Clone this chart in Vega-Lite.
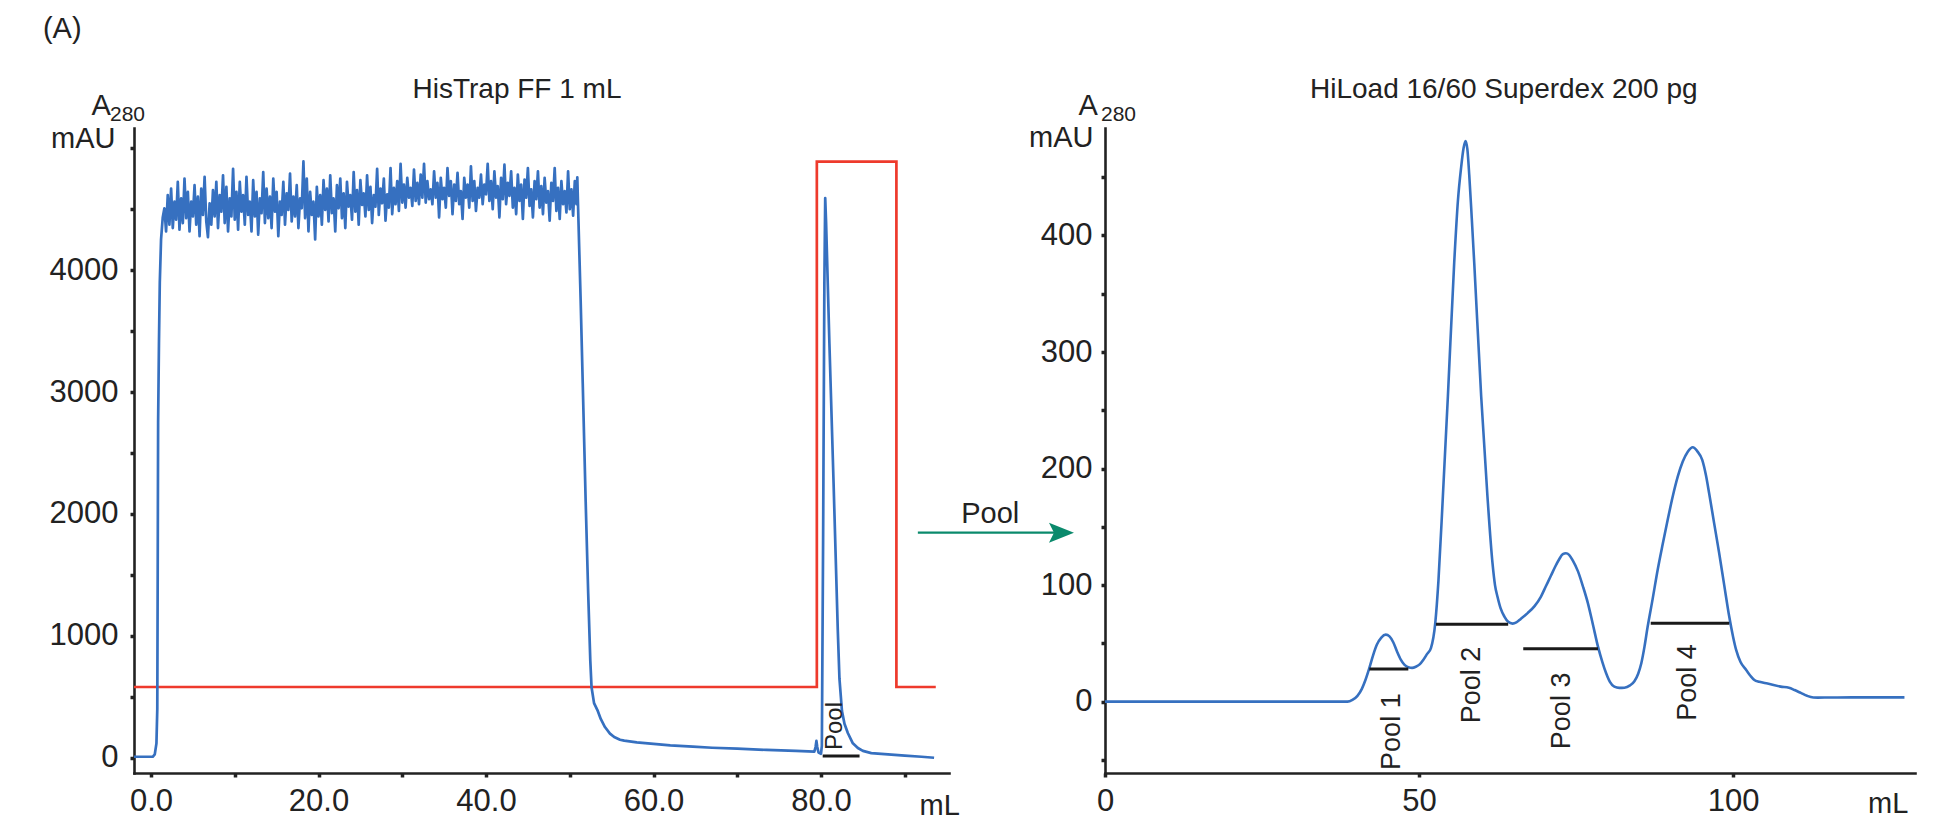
{
"$schema": "https://vega.github.io/schema/vega-lite/v6.json",
"padding": {"left": 42, "top": 15, "right": 10, "bottom": 5},
"config": {
  "view": {"stroke": null},
  "font": "Liberation Sans",
  "axis": {"grid": false, "domainColor": "#222222", "domainWidth": 2.6, "domainCap": "square", "tickColor": "#222222", "tickSize": 4, "tickWidth": 3.5, "labelFontSize": 31, "labelColor": "#222222", "labelFont": "Liberation Sans", "labelFlush": false, "labelOverlap": false, "labelBound": false}
},
"datasets": {
  "histrap_cond": [
    {"i": 0, "ml": -2.03, "mau": 582}, {"i": 1, "ml": 79.5, "mau": 582}, {"i": 2, "ml": 79.5, "mau": 4888},
    {"i": 3, "ml": 89.0, "mau": 4888}, {"i": 4, "ml": 89.0, "mau": 582}, {"i": 5, "ml": 93.7, "mau": 582}
  ],
  "histrap_uv": [
    {"ml": -2.03, "mau": 10}, {"ml": 0.2, "mau": 10}, {"ml": 0.45, "mau": 30}, {"ml": 0.65, "mau": 120}, {"ml": 0.75, "mau": 400},
    {"ml": 0.8, "mau": 1500}, {"ml": 0.85, "mau": 2750}, {"ml": 0.95, "mau": 3400}, {"ml": 1.05, "mau": 3900}, {"ml": 1.2, "mau": 4250}, {"ml": 1.4, "mau": 4430},
    {"ml": 1.6, "mau": 4506}, {"ml": 1.8, "mau": 4317}, {"ml": 2.0, "mau": 4614}, {"ml": 2.2, "mau": 4371}, {"ml": 2.4, "mau": 4668},
    {"ml": 2.6, "mau": 4344}, {"ml": 2.8, "mau": 4560}, {"ml": 3.0, "mau": 4412}, {"ml": 3.2, "mau": 4722}, {"ml": 3.4, "mau": 4331},
    {"ml": 3.6, "mau": 4587}, {"ml": 3.8, "mau": 4385}, {"ml": 4.0, "mau": 4749}, {"ml": 4.2, "mau": 4425}, {"ml": 4.4, "mau": 4641},
    {"ml": 4.6, "mau": 4317}, {"ml": 4.8, "mau": 4560}, {"ml": 5.0, "mau": 4439}, {"ml": 5.2, "mau": 4695}, {"ml": 5.4, "mau": 4371},
    {"ml": 5.6, "mau": 4601}, {"ml": 5.8, "mau": 4277}, {"ml": 6.0, "mau": 4668}, {"ml": 6.2, "mau": 4452}, {"ml": 6.4, "mau": 4763},
    {"ml": 6.6, "mau": 4398}, {"ml": 6.8, "mau": 4270}, {"ml": 7.0, "mau": 4547}, {"ml": 7.2, "mau": 4371}, {"ml": 7.4, "mau": 4655},
    {"ml": 7.6, "mau": 4439}, {"ml": 7.8, "mau": 4722}, {"ml": 8.0, "mau": 4344}, {"ml": 8.2, "mau": 4614}, {"ml": 8.4, "mau": 4479},
    {"ml": 8.6, "mau": 4776}, {"ml": 8.8, "mau": 4385}, {"ml": 9.0, "mau": 4682}, {"ml": 9.2, "mau": 4317}, {"ml": 9.4, "mau": 4587},
    {"ml": 9.6, "mau": 4439}, {"ml": 9.8, "mau": 4830}, {"ml": 10.0, "mau": 4412}, {"ml": 10.2, "mau": 4641}, {"ml": 10.4, "mau": 4331},
    {"ml": 10.6, "mau": 4722}, {"ml": 10.8, "mau": 4479}, {"ml": 11.0, "mau": 4614}, {"ml": 11.2, "mau": 4371}, {"ml": 11.4, "mau": 4763},
    {"ml": 11.6, "mau": 4452}, {"ml": 11.8, "mau": 4560}, {"ml": 12.0, "mau": 4317}, {"ml": 12.2, "mau": 4736}, {"ml": 12.4, "mau": 4439},
    {"ml": 12.6, "mau": 4641}, {"ml": 12.8, "mau": 4290}, {"ml": 13.0, "mau": 4587}, {"ml": 13.2, "mau": 4466}, {"ml": 13.4, "mau": 4803},
    {"ml": 13.6, "mau": 4385}, {"ml": 13.8, "mau": 4668}, {"ml": 14.0, "mau": 4425}, {"ml": 14.2, "mau": 4601}, {"ml": 14.4, "mau": 4344},
    {"ml": 14.6, "mau": 4749}, {"ml": 14.8, "mau": 4479}, {"ml": 15.0, "mau": 4641}, {"ml": 15.2, "mau": 4277}, {"ml": 15.4, "mau": 4560},
    {"ml": 15.6, "mau": 4452}, {"ml": 15.8, "mau": 4722}, {"ml": 16.0, "mau": 4371}, {"ml": 16.2, "mau": 4628}, {"ml": 16.4, "mau": 4493},
    {"ml": 16.6, "mau": 4790}, {"ml": 16.8, "mau": 4398}, {"ml": 17.0, "mau": 4601}, {"ml": 17.2, "mau": 4439}, {"ml": 17.4, "mau": 4695},
    {"ml": 17.6, "mau": 4344}, {"ml": 17.8, "mau": 4587}, {"ml": 18.0, "mau": 4506}, {"ml": 18.2, "mau": 4890}, {"ml": 18.4, "mau": 4425},
    {"ml": 18.6, "mau": 4749}, {"ml": 18.8, "mau": 4317}, {"ml": 19.0, "mau": 4641}, {"ml": 19.2, "mau": 4452}, {"ml": 19.4, "mau": 4560},
    {"ml": 19.6, "mau": 4250}, {"ml": 19.8, "mau": 4682}, {"ml": 20.0, "mau": 4439}, {"ml": 20.2, "mau": 4614}, {"ml": 20.4, "mau": 4371},
    {"ml": 20.6, "mau": 4736}, {"ml": 20.8, "mau": 4493}, {"ml": 21.0, "mau": 4668}, {"ml": 21.2, "mau": 4398}, {"ml": 21.4, "mau": 4776},
    {"ml": 21.6, "mau": 4466}, {"ml": 21.8, "mau": 4587}, {"ml": 22.0, "mau": 4317}, {"ml": 22.2, "mau": 4695}, {"ml": 22.4, "mau": 4506},
    {"ml": 22.6, "mau": 4749}, {"ml": 22.8, "mau": 4425}, {"ml": 23.0, "mau": 4628}, {"ml": 23.2, "mau": 4344}, {"ml": 23.4, "mau": 4722},
    {"ml": 23.6, "mau": 4520}, {"ml": 23.8, "mau": 4614}, {"ml": 24.0, "mau": 4412}, {"ml": 24.2, "mau": 4803}, {"ml": 24.4, "mau": 4479},
    {"ml": 24.6, "mau": 4655}, {"ml": 24.8, "mau": 4371}, {"ml": 25.0, "mau": 4736}, {"ml": 25.2, "mau": 4533}, {"ml": 25.4, "mau": 4628},
    {"ml": 25.6, "mau": 4439}, {"ml": 25.8, "mau": 4776}, {"ml": 26.0, "mau": 4493}, {"ml": 26.2, "mau": 4682}, {"ml": 26.4, "mau": 4385},
    {"ml": 26.6, "mau": 4614}, {"ml": 26.8, "mau": 4520}, {"ml": 27.0, "mau": 4830}, {"ml": 27.2, "mau": 4452}, {"ml": 27.4, "mau": 4668},
    {"ml": 27.6, "mau": 4547}, {"ml": 27.8, "mau": 4749}, {"ml": 28.0, "mau": 4404}, {"ml": 28.2, "mau": 4620}, {"ml": 28.4, "mau": 4512},
    {"ml": 28.6, "mau": 4836}, {"ml": 28.8, "mau": 4458}, {"ml": 29.0, "mau": 4674}, {"ml": 29.2, "mau": 4539}, {"ml": 29.4, "mau": 4728},
    {"ml": 29.6, "mau": 4485}, {"ml": 29.8, "mau": 4870}, {"ml": 30.0, "mau": 4553}, {"ml": 30.2, "mau": 4701}, {"ml": 30.4, "mau": 4512},
    {"ml": 30.6, "mau": 4755}, {"ml": 30.8, "mau": 4593}, {"ml": 31.0, "mau": 4674}, {"ml": 31.2, "mau": 4526}, {"ml": 31.4, "mau": 4823},
    {"ml": 31.6, "mau": 4566}, {"ml": 31.8, "mau": 4715}, {"ml": 32.0, "mau": 4539}, {"ml": 32.2, "mau": 4782}, {"ml": 32.4, "mau": 4593},
    {"ml": 32.6, "mau": 4870}, {"ml": 32.8, "mau": 4553}, {"ml": 33.0, "mau": 4728}, {"ml": 33.2, "mau": 4580}, {"ml": 33.4, "mau": 4661},
    {"ml": 33.6, "mau": 4539}, {"ml": 33.8, "mau": 4809}, {"ml": 34.0, "mau": 4593}, {"ml": 34.2, "mau": 4715}, {"ml": 34.4, "mau": 4431},
    {"ml": 34.6, "mau": 4755}, {"ml": 34.8, "mau": 4580}, {"ml": 35.0, "mau": 4674}, {"ml": 35.2, "mau": 4512}, {"ml": 35.4, "mau": 4836},
    {"ml": 35.6, "mau": 4607}, {"ml": 35.8, "mau": 4728}, {"ml": 36.0, "mau": 4458}, {"ml": 36.2, "mau": 4701}, {"ml": 36.4, "mau": 4566},
    {"ml": 36.6, "mau": 4796}, {"ml": 36.8, "mau": 4539}, {"ml": 37.0, "mau": 4647}, {"ml": 37.2, "mau": 4418}, {"ml": 37.4, "mau": 4755},
    {"ml": 37.6, "mau": 4593}, {"ml": 37.8, "mau": 4701}, {"ml": 38.0, "mau": 4512}, {"ml": 38.2, "mau": 4850}, {"ml": 38.4, "mau": 4566},
    {"ml": 38.6, "mau": 4728}, {"ml": 38.8, "mau": 4485}, {"ml": 39.0, "mau": 4674}, {"ml": 39.2, "mau": 4593}, {"ml": 39.4, "mau": 4782},
    {"ml": 39.6, "mau": 4539}, {"ml": 39.8, "mau": 4701}, {"ml": 40.0, "mau": 4620}, {"ml": 40.2, "mau": 4870}, {"ml": 40.4, "mau": 4566},
    {"ml": 40.6, "mau": 4728}, {"ml": 40.8, "mau": 4499}, {"ml": 41.0, "mau": 4809}, {"ml": 41.2, "mau": 4593}, {"ml": 41.4, "mau": 4688},
    {"ml": 41.6, "mau": 4431}, {"ml": 41.8, "mau": 4755}, {"ml": 42.0, "mau": 4580}, {"ml": 42.2, "mau": 4863}, {"ml": 42.4, "mau": 4539},
    {"ml": 42.6, "mau": 4715}, {"ml": 42.8, "mau": 4607}, {"ml": 43.0, "mau": 4809}, {"ml": 43.2, "mau": 4512}, {"ml": 43.4, "mau": 4674},
    {"ml": 43.6, "mau": 4458}, {"ml": 43.8, "mau": 4782}, {"ml": 44.0, "mau": 4566}, {"ml": 44.2, "mau": 4701}, {"ml": 44.4, "mau": 4418},
    {"ml": 44.6, "mau": 4742}, {"ml": 44.8, "mau": 4593}, {"ml": 45.0, "mau": 4836}, {"ml": 45.2, "mau": 4526}, {"ml": 45.4, "mau": 4661},
    {"ml": 45.6, "mau": 4431}, {"ml": 45.8, "mau": 4728}, {"ml": 46.0, "mau": 4580}, {"ml": 46.2, "mau": 4809}, {"ml": 46.4, "mau": 4512},
    {"ml": 46.6, "mau": 4688}, {"ml": 46.8, "mau": 4458}, {"ml": 47.0, "mau": 4755}, {"ml": 47.2, "mau": 4553}, {"ml": 47.4, "mau": 4647},
    {"ml": 47.6, "mau": 4404}, {"ml": 47.8, "mau": 4715}, {"ml": 48.0, "mau": 4566}, {"ml": 48.2, "mau": 4836}, {"ml": 48.4, "mau": 4485},
    {"ml": 48.6, "mau": 4674}, {"ml": 48.8, "mau": 4418}, {"ml": 49.0, "mau": 4728}, {"ml": 49.2, "mau": 4539}, {"ml": 49.4, "mau": 4647},
    {"ml": 49.6, "mau": 4472}, {"ml": 49.8, "mau": 4809}, {"ml": 50.0, "mau": 4499}, {"ml": 50.2, "mau": 4661}, {"ml": 50.4, "mau": 4445},
    {"ml": 50.6, "mau": 4728}, {"ml": 50.8, "mau": 4539},
    {"ml": 50.9, "mau": 4760}, {"ml": 51.0, "mau": 4500}, {"ml": 51.3, "mau": 3750}, {"ml": 51.55, "mau": 3070}, {"ml": 51.9, "mau": 2100},
    {"ml": 52.2, "mau": 1350}, {"ml": 52.45, "mau": 800}, {"ml": 52.6, "mau": 580}, {"ml": 52.9, "mau": 450}, {"ml": 53.3, "mau": 393},
    {"ml": 53.7, "mau": 320}, {"ml": 54.2, "mau": 254}, {"ml": 54.8, "mau": 200}, {"ml": 55.3, "mau": 172}, {"ml": 56.0, "mau": 150},
    {"ml": 56.5, "mau": 142}, {"ml": 58.0, "mau": 128}, {"ml": 60.0, "mau": 115}, {"ml": 62.0, "mau": 103}, {"ml": 64.7, "mau": 93},
    {"ml": 67.0, "mau": 84}, {"ml": 70.0, "mau": 76}, {"ml": 73.5, "mau": 66}, {"ml": 77.0, "mau": 58}, {"ml": 79.2, "mau": 52},
    {"ml": 79.35, "mau": 90}, {"ml": 79.45, "mau": 140}, {"ml": 79.55, "mau": 90}, {"ml": 79.7, "mau": 45}, {"ml": 80.0, "mau": 35},
    {"ml": 80.1, "mau": 100}, {"ml": 80.25, "mau": 1800}, {"ml": 80.4, "mau": 3900}, {"ml": 80.5, "mau": 4590}, {"ml": 80.6, "mau": 4400},
    {"ml": 81.0, "mau": 3400}, {"ml": 81.5, "mau": 2250}, {"ml": 82.0, "mau": 1050}, {"ml": 82.2, "mau": 650}, {"ml": 82.5, "mau": 385},
    {"ml": 82.8, "mau": 280}, {"ml": 83.2, "mau": 205}, {"ml": 83.8, "mau": 120}, {"ml": 84.4, "mau": 82}, {"ml": 85.0, "mau": 58},
    {"ml": 86.0, "mau": 40}, {"ml": 88.0, "mau": 30}, {"ml": 90.0, "mau": 20}, {"ml": 92.0, "mau": 10}, {"ml": 93.5, "mau": 2}
  ],
  "histrap_pool": [{"ml": 80.2, "ml2": 84.6, "mau": 16}],
  "notes_left": [
    {"kind": "title", "label": "HisTrap FF 1 mL", "ml": 43.7, "mau": 5410},
    {"kind": "unit", "label": "(A)", "ml": -12.9, "mau": 5899},
    {"kind": "unit", "label": "mAU", "ml": -11.94, "mau": 5000},
    {"kind": "unit", "label": "A", "ml": -7.09, "mau": 5270},
    {"kind": "unit", "label": "mL", "ml": 91.76, "mau": -467},
    {"kind": "sub", "label": "280", "ml": -4.9, "mau": 5221},
    {"kind": "pool", "label": "Pool", "ml": 81.7, "mau": 262}
  ],
  "sec_uv": [
    {"ml": 0, "mau": 0}, {"ml": 38.6, "mau": 0}, {"ml": 39.4, "mau": 1.5}, {"ml": 40.2, "mau": 5}, {"ml": 40.9, "mau": 11},
    {"ml": 41.5, "mau": 19}, {"ml": 42.1, "mau": 29}, {"ml": 42.7, "mau": 40}, {"ml": 43.3, "mau": 49}, {"ml": 44.0, "mau": 55},
    {"ml": 44.7, "mau": 57.5}, {"ml": 45.3, "mau": 56}, {"ml": 45.9, "mau": 51}, {"ml": 46.5, "mau": 43}, {"ml": 47.1, "mau": 36},
    {"ml": 47.7, "mau": 31.5}, {"ml": 48.3, "mau": 29.5}, {"ml": 48.9, "mau": 29}, {"ml": 49.5, "mau": 30}, {"ml": 50.1, "mau": 32},
    {"ml": 50.7, "mau": 36}, {"ml": 51.3, "mau": 41}, {"ml": 51.9, "mau": 46}, {"ml": 52.6, "mau": 68}, {"ml": 53.1, "mau": 104},
    {"ml": 53.8, "mau": 176}, {"ml": 54.6, "mau": 262}, {"ml": 55.6, "mau": 376}, {"ml": 56.2, "mau": 430}, {"ml": 56.7, "mau": 458},
    {"ml": 57.1, "mau": 475}, {"ml": 57.4, "mau": 481}, {"ml": 57.7, "mau": 474}, {"ml": 58.0, "mau": 452}, {"ml": 58.4, "mau": 415},
    {"ml": 58.8, "mau": 376}, {"ml": 59.9, "mau": 262}, {"ml": 60.9, "mau": 176}, {"ml": 61.7, "mau": 119}, {"ml": 62.1, "mau": 100},
    {"ml": 62.5, "mau": 90}, {"ml": 63.0, "mau": 80}, {"ml": 63.6, "mau": 73}, {"ml": 64.2, "mau": 68.5}, {"ml": 64.9, "mau": 67},
    {"ml": 65.5, "mau": 68}, {"ml": 66.2, "mau": 71}, {"ml": 67.3, "mau": 76}, {"ml": 68.4, "mau": 82}, {"ml": 69.4, "mau": 90},
    {"ml": 70.2, "mau": 99}, {"ml": 71.0, "mau": 108}, {"ml": 71.7, "mau": 116}, {"ml": 72.3, "mau": 122}, {"ml": 72.9, "mau": 126.5},
    {"ml": 73.4, "mau": 127.3}, {"ml": 73.9, "mau": 126}, {"ml": 74.5, "mau": 121}, {"ml": 75.3, "mau": 112}, {"ml": 76.1, "mau": 99},
    {"ml": 76.9, "mau": 84.4}, {"ml": 77.7, "mau": 66}, {"ml": 78.5, "mau": 47.2}, {"ml": 79.2, "mau": 34}, {"ml": 79.8, "mau": 24.4},
    {"ml": 80.4, "mau": 17}, {"ml": 81.1, "mau": 12.9}, {"ml": 81.9, "mau": 11.8}, {"ml": 82.7, "mau": 12}, {"ml": 83.6, "mau": 14},
    {"ml": 84.3, "mau": 17.5}, {"ml": 84.9, "mau": 24}, {"ml": 85.4, "mau": 33}, {"ml": 85.9, "mau": 47}, {"ml": 86.4, "mau": 64},
    {"ml": 87.2, "mau": 88}, {"ml": 88.0, "mau": 113}, {"ml": 88.8, "mau": 135}, {"ml": 89.6, "mau": 156}, {"ml": 90.4, "mau": 176},
    {"ml": 91.2, "mau": 193}, {"ml": 92.0, "mau": 206}, {"ml": 92.8, "mau": 214.5}, {"ml": 93.6, "mau": 218.3}, {"ml": 94.3, "mau": 215},
    {"ml": 95.1, "mau": 207.4}, {"ml": 95.7, "mau": 194}, {"ml": 96.2, "mau": 178.8}, {"ml": 97.0, "mau": 153}, {"ml": 97.8, "mau": 127.3},
    {"ml": 98.6, "mau": 100}, {"ml": 99.4, "mau": 73}, {"ml": 100.0, "mau": 56}, {"ml": 100.5, "mau": 44.4}, {"ml": 101.2, "mau": 34},
    {"ml": 102.1, "mau": 27.2}, {"ml": 102.8, "mau": 22}, {"ml": 103.4, "mau": 18.6}, {"ml": 104.2, "mau": 17}, {"ml": 105.5, "mau": 15.5},
    {"ml": 107.6, "mau": 12.9}, {"ml": 108.9, "mau": 12}, {"ml": 109.8, "mau": 10}, {"ml": 110.8, "mau": 7.5}, {"ml": 111.8, "mau": 5},
    {"ml": 112.8, "mau": 3.6}, {"ml": 113.5, "mau": 3.5}, {"ml": 120.0, "mau": 3.7}, {"ml": 127.3, "mau": 3.7}
  ],
  "sec_pools": [
    {"ml": 42.1, "ml2": 48.3, "mau": 28},
    {"ml": 52.7, "ml2": 64.2, "mau": 66.5},
    {"ml": 66.6, "ml2": 78.5, "mau": 45.5},
    {"ml": 86.9, "ml2": 99.4, "mau": 67.2}
  ],
  "arrow": [{"ml": -29.8, "ml2": -8.0, "mau": 145}],
  "arrowhead": [{"ml": -6.93, "mau": 145}],
  "notes_right": [
    {"kind": "title", "label": "HiLoad 16/60 Superdex 200 pg", "ml": 63.5, "mau": 518.0},
    {"kind": "unit", "label": "mAU", "ml": -12.1, "mau": 476},
    {"kind": "unit", "label": "A", "ml": -4.2, "mau": 503.3},
    {"kind": "unit", "label": "mL", "ml": 121.5, "mau": -95.5},
    {"kind": "unit", "label": "Pool", "ml": -22.9, "mau": 153.1},
    {"kind": "sub", "label": "280", "ml": -0.64, "mau": 498.2},
    {"kind": "pool", "label": "Pool 1", "ml": 45.7, "mau": -25.7},
    {"kind": "pool", "label": "Pool 2", "ml": 58.5, "mau": 14.3},
    {"kind": "pool", "label": "Pool 3", "ml": 72.8, "mau": -7.9},
    {"kind": "pool", "label": "Pool 4", "ml": 92.9, "mau": 16.5}
  ]
},
"spacing": 156,
"bounds": "flush",
"hconcat": [
  {
    "width": 815, "height": 645,
    "encoding": {
      "x": {"field": "ml", "type": "quantitative", "title": null,
        "scale": {"domain": [-2.03, 95.28], "nice": false, "zero": false},
        "axis": {"values": [0, 10, 20, 30, 40, 50, 60, 70, 80, 90], "labelExpr": "datum.value % 20 == 0 ? format(datum.value, '.1f') : ''", "labelPadding": 9}},
      "y": {"field": "mau", "type": "quantitative", "title": null,
        "scale": {"domain": [-123, 5164], "nice": false, "zero": false},
        "axis": {"values": [0, 500, 1000, 1500, 2000, 2500, 3000, 3500, 4000, 4500, 5000], "labelExpr": "datum.value % 1000 == 0 && datum.value < 5000 ? format(datum.value, 'd') : ''", "labelPadding": 12}}
    },
    "layer": [
      {"data": {"name": "histrap_cond"}, "mark": {"type": "line", "color": "#ee3a2c", "strokeWidth": 2.7}, "encoding": {"order": {"field": "i", "type": "quantitative"}}},
      {"data": {"name": "histrap_uv"}, "mark": {"type": "line", "color": "#3670c0", "strokeWidth": 2.7, "strokeJoin": "round"}},
      {"data": {"name": "histrap_pool"}, "mark": {"type": "rule", "color": "#1a1a1a", "strokeWidth": 3}, "encoding": {"x2": {"field": "ml2"}}},
      {"data": {"name": "notes_left"}, "transform": [{"filter": "datum.kind == 'title'"}], "mark": {"type": "text", "align": "center", "baseline": "alphabetic", "fontSize": 28, "color": "#222222"}, "encoding": {"text": {"field": "label"}}},
      {"data": {"name": "notes_left"}, "transform": [{"filter": "datum.kind == 'unit'"}], "mark": {"type": "text", "align": "left", "baseline": "alphabetic", "fontSize": 29, "color": "#222222"}, "encoding": {"text": {"field": "label"}}},
      {"data": {"name": "notes_left"}, "transform": [{"filter": "datum.kind == 'sub'"}], "mark": {"type": "text", "align": "left", "baseline": "alphabetic", "fontSize": 21, "color": "#222222"}, "encoding": {"text": {"field": "label"}}},
      {"data": {"name": "notes_left"}, "transform": [{"filter": "datum.kind == 'pool'"}], "mark": {"type": "text", "align": "center", "baseline": "middle", "angle": 270, "fontSize": 24, "color": "#222222"}, "encoding": {"text": {"field": "label"}}}
    ]
  },
  {
    "width": 810, "height": 645,
    "encoding": {
      "x": {"field": "ml", "type": "quantitative", "title": null,
        "scale": {"domain": [0, 128.98], "nice": false, "zero": false},
        "axis": {"values": [0, 50, 100], "format": "d", "labelPadding": 9}},
      "y": {"field": "mau", "type": "quantitative", "title": null,
        "scale": {"domain": [-61.2, 492.2], "nice": false, "zero": false},
        "axis": {"values": [-50, 0, 50, 100, 150, 200, 250, 300, 350, 400, 450], "labelExpr": "datum.value % 100 == 0 && datum.value >= 0 && datum.value <= 400 ? format(datum.value, 'd') : ''", "labelPadding": 9}}
    },
    "layer": [
      {"data": {"name": "sec_uv"}, "mark": {"type": "line", "color": "#3670c0", "strokeWidth": 2.6, "interpolate": "monotone"}},
      {"data": {"name": "sec_pools"}, "mark": {"type": "rule", "color": "#1a1a1a", "strokeWidth": 3}, "encoding": {"x2": {"field": "ml2"}}},
      {"data": {"name": "arrow"}, "mark": {"type": "rule", "color": "#0b8a6c", "strokeWidth": 2.3}, "encoding": {"x2": {"field": "ml2"}}},
      {"data": {"name": "arrowhead"}, "mark": {"type": "point", "shape": "M-1,-0.8L1,0L-1,0.8L-0.6,0Z", "size": 625, "filled": true, "color": "#0b8a6c", "opacity": 1, "strokeWidth": 0}},
      {"data": {"name": "notes_right"}, "transform": [{"filter": "datum.kind == 'title'"}], "mark": {"type": "text", "align": "center", "baseline": "alphabetic", "fontSize": 28, "color": "#222222"}, "encoding": {"text": {"field": "label"}}},
      {"data": {"name": "notes_right"}, "transform": [{"filter": "datum.kind == 'unit'"}], "mark": {"type": "text", "align": "left", "baseline": "alphabetic", "fontSize": 29, "color": "#222222"}, "encoding": {"text": {"field": "label"}}},
      {"data": {"name": "notes_right"}, "transform": [{"filter": "datum.kind == 'sub'"}], "mark": {"type": "text", "align": "left", "baseline": "alphabetic", "fontSize": 21, "color": "#222222"}, "encoding": {"text": {"field": "label"}}},
      {"data": {"name": "notes_right"}, "transform": [{"filter": "datum.kind == 'pool'"}], "mark": {"type": "text", "align": "center", "baseline": "middle", "angle": 270, "fontSize": 27, "color": "#222222"}, "encoding": {"text": {"field": "label"}}}
    ]
  }
]
}
